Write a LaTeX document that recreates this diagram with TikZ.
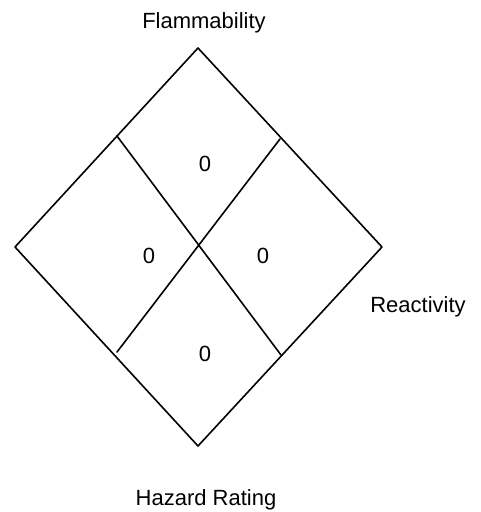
\documentclass[tikz,border=0pt]{standalone}
\usepackage{fontspec}
\setmainfont{Liberation Sans}
\begin{document}
\begin{tikzpicture}[x=1pt, y=-1pt, line join=round, line cap=round,
		font=\fontsize{22}{26}\selectfont, every node/.style={anchor=base}]
		\useasboundingbox (0,0) rectangle (480,512);
		\path 
		(198,48) coordinate (T)
		(382,247) coordinate (R)
		(198,446) coordinate (B)
		(15,247) coordinate (L)
		(117,136) coordinate (TL)
		(280,139) coordinate (TR)
		(117,352) coordinate (BL)
		(281,355) coordinate (BR)
		;
		\draw[line width=1.6pt] (T)--(R)--(B)--(L)--cycle;
		\draw[line width=1.6pt] (TL)--(BR) (TR)--(BL);
		\foreach \n/\p in {F/{205,171},W/{149,263},E/{263,263},S/{205,361}}{
			\node (z\n) at (\p) {0};
		}
		\node (flam) at (204,28) {Flammability};
		\node (reac) at (418,312) {Reactivity};
		\node (haz) at (206,505) {Hazard Rating};
		\end{tikzpicture}
\end{document}
